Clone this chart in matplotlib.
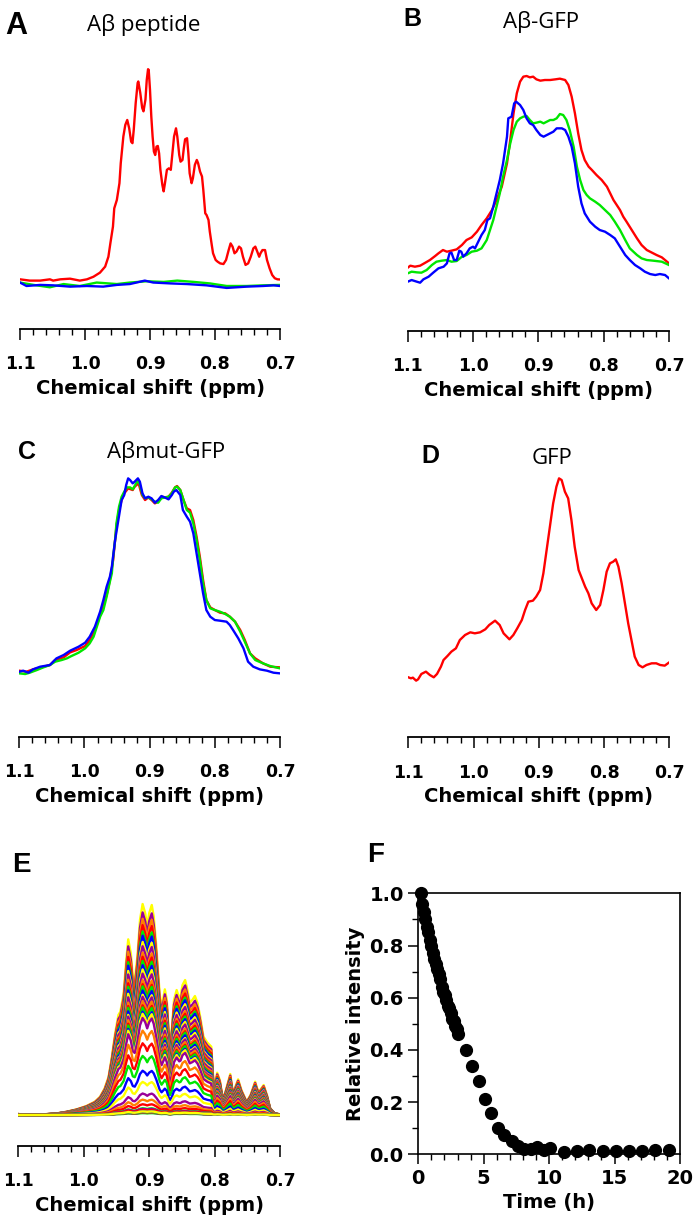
import numpy as np
import matplotlib
matplotlib.use('Agg')
import matplotlib.pyplot as plt
from matplotlib.ticker import MultipleLocator, FixedLocator, FormatStrFormatter

# ---------------- data ----------------
# A: Abeta peptide (normalised intensity)
ppm_a_red = [1.100, 1.085, 1.069, 1.054, 1.049, 1.038, 1.023, 1.008, 0.997, 0.987, 0.977, 0.969, 0.964,
             0.961, 0.957, 0.955, 0.951, 0.947, 0.945, 0.941, 0.938, 0.935, 0.932, 0.929, 0.927, 0.925,
             0.922, 0.919, 0.918, 0.915, 0.912, 0.910, 0.907, 0.905, 0.903, 0.902, 0.900, 0.898, 0.896,
             0.894, 0.892, 0.890, 0.888, 0.886, 0.884, 0.881, 0.879, 0.877, 0.874, 0.871, 0.868, 0.865,
             0.863, 0.860, 0.858, 0.855, 0.853, 0.850, 0.848, 0.846, 0.843, 0.841, 0.839, 0.836, 0.834,
             0.831, 0.828, 0.826, 0.823, 0.820, 0.818, 0.815, 0.813, 0.810, 0.808, 0.805, 0.803, 0.799,
             0.796, 0.792, 0.787, 0.783, 0.779, 0.776, 0.773, 0.770, 0.767, 0.763, 0.760, 0.757, 0.753,
             0.749, 0.745, 0.741, 0.738, 0.735, 0.732, 0.730, 0.727, 0.723, 0.720, 0.716, 0.712, 0.708,
             0.704, 0.699]
int_a_red = [0.017, 0.011, 0.011, 0.017, 0.011, 0.017, 0.020, 0.011, 0.017, 0.029, 0.048, 0.076, 0.122,
             0.184, 0.262, 0.347, 0.386, 0.464, 0.557, 0.681, 0.735, 0.758, 0.719, 0.657, 0.650, 0.712,
             0.837, 0.930, 0.937, 0.884, 0.814, 0.798, 0.853, 0.944, 0.994, 0.991, 0.898, 0.774, 0.681,
             0.611, 0.595, 0.634, 0.637, 0.603, 0.526, 0.456, 0.426, 0.464, 0.526, 0.533, 0.526, 0.619,
             0.681, 0.719, 0.681, 0.595, 0.564, 0.572, 0.626, 0.668, 0.673, 0.603, 0.510, 0.464, 0.487,
             0.549, 0.572, 0.557, 0.518, 0.495, 0.433, 0.324, 0.316, 0.293, 0.239, 0.177, 0.138, 0.107,
             0.099, 0.091, 0.088, 0.107, 0.153, 0.184, 0.169, 0.138, 0.146, 0.169, 0.161, 0.122, 0.084,
             0.091, 0.122, 0.161, 0.169, 0.146, 0.122, 0.138, 0.153, 0.153, 0.107, 0.068, 0.037, 0.022,
             0.017, 0.016]
ppm_a_green = [1.100, 1.079, 1.054, 1.033, 1.008, 0.982, 0.951, 0.931, 0.905, 0.879, 0.858, 0.833, 0.808,
               0.782, 0.751, 0.726, 0.700]
int_a_green = [0.002, -0.009, -0.020, -0.005, -0.014, 0.002, -0.005, 0.002, 0.008, 0.005, 0.011, 0.005,
               -0.002, -0.014, -0.014, -0.011, -0.009]
ppm_a_blue = [1.100, 1.090, 1.069, 1.049, 1.023, 0.997, 0.972, 0.951, 0.931, 0.908, 0.895, 0.869, 0.843,
              0.813, 0.782, 0.751, 0.726, 0.710, 0.700]
int_a_blue = [0.002, -0.014, -0.009, -0.011, -0.017, -0.014, -0.017, -0.009, -0.005, 0.011, 0.002, -0.002,
              -0.005, -0.011, -0.023, -0.017, -0.014, -0.011, -0.014]

# B: Abeta-GFP (a.u.)
ppm_b_red = [1.100, 1.096, 1.089, 1.081, 1.073, 1.066, 1.058, 1.053, 1.046, 1.040, 1.033, 1.025, 1.017,
             1.010, 1.002, 0.994, 0.987, 0.979, 0.971, 0.964, 0.956, 0.948, 0.943, 0.938, 0.933, 0.928,
             0.923, 0.918, 0.913, 0.908, 0.903, 0.897, 0.890, 0.882, 0.874, 0.867, 0.859, 0.854, 0.849,
             0.844, 0.839, 0.834, 0.829, 0.823, 0.818, 0.811, 0.803, 0.795, 0.790, 0.785, 0.780, 0.775,
             0.770, 0.765, 0.757, 0.749, 0.742, 0.734, 0.727, 0.719, 0.711, 0.700]
int_b_red = [57, 63, 60, 63, 72, 80, 92, 100, 110, 105, 108, 112, 125, 140, 148, 165, 185, 205, 230, 260,
             300, 370, 440, 520, 580, 615, 630, 632, 628, 630, 622, 618, 620, 620, 622, 624, 620, 605, 570,
             520, 460, 410, 380, 360, 350, 335, 320, 300, 280, 260, 245, 230, 210, 195, 170, 145, 125, 110,
             103, 95, 88, 70]
ppm_b_green = [1.100, 1.094, 1.086, 1.079, 1.071, 1.063, 1.056, 1.048, 1.040, 1.033, 1.025, 1.017, 1.010,
               1.002, 0.994, 0.987, 0.979, 0.974, 0.969, 0.964, 0.959, 0.954, 0.948, 0.943, 0.938, 0.933,
               0.928, 0.923, 0.918, 0.913, 0.908, 0.903, 0.897, 0.892, 0.887, 0.882, 0.877, 0.872, 0.867,
               0.862, 0.857, 0.852, 0.846, 0.841, 0.836, 0.831, 0.826, 0.821, 0.813, 0.806, 0.798, 0.790,
               0.783, 0.775, 0.767, 0.760, 0.749, 0.742, 0.734, 0.724, 0.711, 0.700]
int_b_green = [40, 45, 43, 42, 50, 65, 75, 78, 80, 75, 77, 90, 95, 105, 108, 115, 140, 170, 200, 240, 280,
               330, 380, 430, 470, 495, 505, 510, 512, 500, 490, 492, 495, 490, 495, 500, 500, 505, 518,
               515, 500, 470, 420, 360, 320, 290, 275, 265, 255, 245, 230, 215, 195, 170, 140, 115, 95,
               85, 80, 78, 75, 65]
ppm_b_blue = [1.100, 1.094, 1.086, 1.081, 1.076, 1.068, 1.061, 1.053, 1.045, 1.040, 1.036, 1.033, 1.029,
              1.025, 1.021, 1.018, 1.015, 1.010, 1.005, 1.000, 0.997, 0.992, 0.987, 0.982, 0.978, 0.974,
              0.969, 0.964, 0.959, 0.954, 0.948, 0.946, 0.941, 0.937, 0.934, 0.928, 0.923, 0.918, 0.913,
              0.908, 0.903, 0.897, 0.892, 0.887, 0.882, 0.877, 0.872, 0.864, 0.859, 0.854, 0.849, 0.844,
              0.839, 0.834, 0.829, 0.821, 0.813, 0.806, 0.798, 0.790, 0.783, 0.775, 0.767, 0.760, 0.752,
              0.744, 0.737, 0.729, 0.721, 0.714, 0.706, 0.700]
int_b_blue = [15, 20, 15, 12, 22, 30, 42, 55, 60, 70, 100, 102, 80, 80, 108, 105, 90, 100, 115, 120, 115,
              135, 155, 170, 200, 205, 240, 280, 320, 370, 450, 505, 510, 550, 555, 545, 530, 505, 490,
              485, 470, 455, 450, 455, 460, 465, 475, 475, 470, 450, 420, 370, 300, 250, 220, 195, 180,
              170, 165, 155, 145, 120, 95, 80, 65, 55, 45, 38, 35, 38, 35, 25]

# C: Abeta-mut-GFP (a.u.)
ppm_c_red = [1.100, 1.089, 1.079, 1.063, 1.053, 1.045, 1.032, 1.022, 1.012, 0.999, 0.992, 0.984, 0.976,
             0.966, 0.961, 0.956, 0.951, 0.947, 0.943, 0.939, 0.933, 0.926, 0.923, 0.917, 0.912, 0.907,
             0.902, 0.897, 0.892, 0.887, 0.882, 0.876, 0.871, 0.866, 0.861, 0.858, 0.853, 0.848, 0.843,
             0.838, 0.833, 0.828, 0.823, 0.818, 0.813, 0.807, 0.800, 0.792, 0.784, 0.777, 0.769, 0.761,
             0.754, 0.746, 0.738, 0.726, 0.715, 0.700]
int_c_red = [8, 5, 12, 20, 25, 40, 48, 63, 70, 82, 100, 130, 175, 235, 280, 340, 440, 490, 520, 540, 555,
             550, 560, 570, 535, 520, 528, 520, 510, 515, 530, 528, 530, 542, 558, 562, 550, 520, 495, 490,
             460, 410, 350, 280, 220, 198, 190, 182, 180, 170, 155, 130, 100, 60, 45, 30, 20, 18]
ppm_c_green = [1.100, 1.091, 1.084, 1.073, 1.063, 1.053, 1.045, 1.035, 1.027, 1.020, 1.009, 0.999, 0.992,
               0.986, 0.981, 0.976, 0.971, 0.966, 0.961, 0.958, 0.956, 0.953, 0.951, 0.947, 0.943, 0.939,
               0.935, 0.930, 0.926, 0.923, 0.918, 0.915, 0.911, 0.907, 0.902, 0.897, 0.892, 0.887, 0.882,
               0.876, 0.871, 0.866, 0.861, 0.858, 0.853, 0.848, 0.843, 0.838, 0.833, 0.828, 0.823, 0.818,
               0.813, 0.807, 0.800, 0.792, 0.784, 0.777, 0.769, 0.761, 0.754, 0.746, 0.738, 0.726, 0.715,
               0.700]
int_c_green = [0, -2, 2, 10, 18, 25, 35, 40, 45, 52, 62, 75, 90, 110, 140, 170, 190, 230, 275, 300, 350,
               400, 450, 500, 530, 545, 558, 558, 552, 562, 580, 565, 535, 525, 528, 522, 515, 512, 525,
               528, 530, 540, 558, 560, 550, 520, 490, 482, 450, 400, 340, 270, 220, 195, 190, 185, 178,
               170, 155, 125, 95, 60, 40, 30, 22, 15]
ppm_c_blue = [1.100, 1.094, 1.086, 1.079, 1.068, 1.053, 1.043, 1.032, 1.022, 1.009, 0.999, 0.992, 0.984,
              0.976, 0.971, 0.966, 0.961, 0.958, 0.953, 0.948, 0.943, 0.939, 0.936, 0.933, 0.930, 0.926,
              0.923, 0.918, 0.915, 0.911, 0.907, 0.902, 0.897, 0.892, 0.887, 0.882, 0.876, 0.871, 0.866,
              0.863, 0.859, 0.853, 0.849, 0.843, 0.838, 0.833, 0.828, 0.823, 0.818, 0.813, 0.807, 0.800,
              0.792, 0.782, 0.777, 0.772, 0.764, 0.756, 0.749, 0.741, 0.731, 0.720, 0.710, 0.700]
int_c_blue = [5, 8, 2, 12, 20, 25, 45, 55, 68, 80, 92, 110, 140, 185, 220, 260, 290, 320, 400, 460, 520,
              535, 565, 585, 580, 570, 575, 585, 575, 540, 525, 530, 525, 512, 520, 532, 527, 522, 535,
              545, 550, 535, 490, 470, 455, 420, 360, 300, 240, 190, 170, 160, 158, 155, 145, 130, 105,
              75, 35, 20, 12, 8, 2, 0]

# D: GFP (a.u.)
ppm_d = [1.100, 1.096, 1.093, 1.088, 1.085, 1.080, 1.073, 1.067, 1.061, 1.056, 1.050, 1.046, 1.040, 1.034,
         1.027, 1.021, 1.013, 1.005, 0.998, 0.990, 0.982, 0.976, 0.967, 0.960, 0.954, 0.945, 0.939, 0.933,
         0.926, 0.921, 0.916, 0.909, 0.904, 0.898, 0.893, 0.888, 0.883, 0.878, 0.873, 0.869, 0.865, 0.860,
         0.855, 0.850, 0.845, 0.839, 0.834, 0.829, 0.824, 0.819, 0.812, 0.806, 0.801, 0.796, 0.791, 0.786,
         0.782, 0.778, 0.773, 0.768, 0.763, 0.758, 0.753, 0.747, 0.741, 0.735, 0.727, 0.720, 0.714, 0.707,
         0.700]
int_d = [18, 15, 17, 8, 12, 28, 35, 25, 18, 28, 50, 70, 82, 95, 105, 130, 145, 153, 150, 153, 162, 175,
         188, 175, 150, 132, 145, 165, 190, 220, 245, 248, 260, 280, 330, 400, 470, 540, 590, 615, 610,
         575, 555, 490, 410, 340, 315, 290, 270, 240, 220, 235, 280, 335, 360, 365, 372, 350, 300, 240,
         180, 130, 80, 55, 48, 55, 60, 60, 55, 53, 63]

# E: spectrum at t = 0 (a.u.); later spectra scale with the relative intensity of F
ppm_e = [1.100, 1.082, 1.062, 1.041, 1.026, 1.011, 0.996, 0.983, 0.975, 0.968, 0.962, 0.957, 0.952, 0.947,
         0.944, 0.939, 0.935, 0.932, 0.928, 0.925, 0.922, 0.918, 0.914, 0.910, 0.906, 0.903, 0.900, 0.896,
         0.893, 0.889, 0.884, 0.881, 0.878, 0.876, 0.873, 0.870, 0.868, 0.865, 0.862, 0.858, 0.854, 0.852,
         0.849, 0.845, 0.842, 0.838, 0.834, 0.830, 0.826, 0.822, 0.817, 0.811, 0.805, 0.802, 0.799, 0.796,
         0.792, 0.788, 0.784, 0.776, 0.773, 0.770, 0.764, 0.759, 0.751, 0.745, 0.738, 0.735, 0.732, 0.725,
         0.720, 0.715, 0.708, 0.700]
int_e = [3, 0, 2, 5, 10, 17, 27, 40, 55, 80, 115, 175, 245, 300, 310, 365, 465, 527, 485, 415, 405, 475,
         585, 633, 605, 565, 605, 630, 595, 505, 365, 325, 355, 377, 345, 245, 215, 265, 345, 375, 350,
         355, 390, 405, 380, 337, 345, 357, 335, 295, 235, 217, 205, 105, 90, 127, 105, 55, 65, 123, 80,
         75, 107, 75, 40, 60, 100, 80, 70, 90, 60, 20, 5, 2]

# F: relative intensity vs time
time_h = [0.18, 0.30, 0.41, 0.53, 0.64, 0.76, 0.87, 0.99, 1.10, 1.22, 1.33, 1.45, 1.56, 1.68, 1.79, 1.91,
          2.02, 2.14, 2.25, 2.37, 2.48, 2.60, 2.71, 2.83, 2.94, 3.06, 3.64, 4.10, 4.64, 5.10, 5.58, 6.09,
          6.55, 7.13, 7.64, 8.10, 8.59, 9.10, 9.63, 10.06, 11.13, 12.10, 13.07, 14.09, 15.08, 16.10,
          17.10, 18.09, 19.13]
rel_int = [1.00, 0.96, 0.93, 0.90, 0.87, 0.85, 0.82, 0.80, 0.77, 0.75, 0.73, 0.71, 0.69, 0.67, 0.64, 0.62,
           0.61, 0.59, 0.57, 0.56, 0.54, 0.52, 0.51, 0.49, 0.48, 0.46, 0.40, 0.34, 0.28, 0.21, 0.157, 0.102,
           0.073, 0.051, 0.032, 0.022, 0.022, 0.029, 0.017, 0.024, 0.009, 0.014, 0.017, 0.011, 0.014, 0.014,
           0.014, 0.017, 0.017]

ppm_ticks = [1.1, 1.0, 0.9, 0.8, 0.7]
ppm_ticklabels = ['1.1', '1.0', '0.9', '0.8', '0.7']

RED, GREEN, BLUE = '#ff0000', '#00e600', '#0000ff'
e_colors = ['#ffff00', '#990099', '#ff8000', '#ff0000', '#00e600', '#0000ff']

# ---------------- figure ----------------
W, H = 697, 1224
fig = plt.figure(figsize=(W / 100, H / 100), dpi=100)
BOLD = 'DejaVu Sans'


def box(l, r, b, t):
    return [l / W, 1 - b / H, (r - l) / W, (b - t) / H]


def spec_axes(rect, ylim):
    ax = fig.add_axes(rect)
    ax.set_xlim(1.1, 0.7)
    ax.set_ylim(*ylim)
    for s in ['left', 'top', 'right']:
        ax.spines[s].set_visible(False)
    ax.spines['bottom'].set_linewidth(1.3)
    ax.set_yticks([])
    ax.xaxis.set_major_locator(FixedLocator(ppm_ticks))
    ax.xaxis.set_minor_locator(MultipleLocator(0.02))
    ax.set_xticklabels(ppm_ticklabels, fontsize=12.5, fontweight='bold', family=BOLD)
    ax.tick_params(axis='x', which='major', direction='out', length=8, width=1.1, pad=11)
    ax.tick_params(axis='x', which='minor', direction='out', length=4.3, width=1.0)
    ax.set_xlabel('Chemical shift (ppm)', fontsize=14, fontweight='bold', family=BOLD, labelpad=4)
    ax.patch.set_visible(False)
    return ax


lw = 1.7
axA = spec_axes(box(20, 280, 329, 55), (-0.214, 1.06))
axA.plot(ppm_a_red, int_a_red, color=RED, lw=lw)
axA.plot(ppm_a_green, int_a_green, color=GREEN, lw=lw)
axA.plot(ppm_a_blue, int_a_blue, color=BLUE, lw=lw)

axB = spec_axes(box(407.7, 669, 330.7, 55), (-132, 695))
axB.plot(ppm_b_red, int_b_red, color=RED, lw=lw)
axB.plot(ppm_b_green, int_b_green, color=GREEN, lw=lw)
axB.plot(ppm_b_blue, int_b_blue, color=BLUE, lw=lw)

axC = spec_axes(box(19.3, 280, 736.7, 466.7), (-190, 620))
axC.plot(ppm_c_red, int_c_red, color=RED, lw=lw)
axC.plot(ppm_c_green, int_c_green, color=GREEN, lw=lw)
axC.plot(ppm_c_blue, int_c_blue, color=BLUE, lw=lw)

axD = spec_axes(box(408.3, 669.3, 737.3, 466.7), (-162, 650))
axD.plot(ppm_d, int_d, color=RED, lw=lw)

axE = spec_axes(box(18.3, 280, 1145.7, 890), (-92, 675))
base_e = np.array(int_e, dtype=float)
for k, r in enumerate(rel_int):
    axE.plot(ppm_e, base_e * r, color=e_colors[k % len(e_colors)], lw=1.7)

# F
axF = fig.add_axes(box(418.3, 680, 1154.3, 893.3))
axF.plot(time_h, rel_int, 'o', color='black', ms=8.5, clip_on=False, zorder=3)
axF.set_xlim(0, 20)
axF.set_ylim(0, 1)
axF.xaxis.set_major_locator(MultipleLocator(5))
axF.xaxis.set_minor_locator(MultipleLocator(1))
axF.yaxis.set_major_locator(MultipleLocator(0.2))
axF.yaxis.set_minor_locator(MultipleLocator(0.1))
axF.yaxis.set_major_formatter(FormatStrFormatter('%.1f'))
axF.tick_params(which='major', direction='out', length=7.5, width=1.1, pad=3, labelsize=14)
axF.tick_params(which='minor', direction='out', length=4, width=1.0)
for lab in axF.get_xticklabels() + axF.get_yticklabels():
    lab.set_fontweight('bold')
    lab.set_family(BOLD)
for s in axF.spines.values():
    s.set_linewidth(1.2)
axF.set_xlabel('Time (h)', fontsize=14, fontweight='bold', family=BOLD, labelpad=4)
axF.set_ylabel('Relative intensity', fontsize=14, fontweight='bold', family=BOLD, labelpad=3)

# panel letters and titles
letters = [('A', 16, 26, 22), ('B', 412, 19, 18), ('C', 27, 452, 18),
           ('D', 430, 456, 18), ('E', 21, 865, 20), ('F', 376, 855, 20)]
for txt, x, y, fs in letters:
    fig.text(x / W, 1 - y / H, txt, fontsize=fs, fontweight='bold', family=['Liberation Sans', 'DejaVu Sans'],
             ha='center', va='center')

titles = [('Aβ peptide', 144, 25), ('Aβ-GFP', 541, 22), ('Aβmut-GFP', 166, 452), ('GFP', 552, 458)]
for txt, x, y in titles:
    fig.text(x / W, 1 - y / H, txt, fontsize=16, family=['Open Sans', 'DejaVu Sans'],
             ha='center', va='center')

fig.savefig('out.png', dpi=100)
